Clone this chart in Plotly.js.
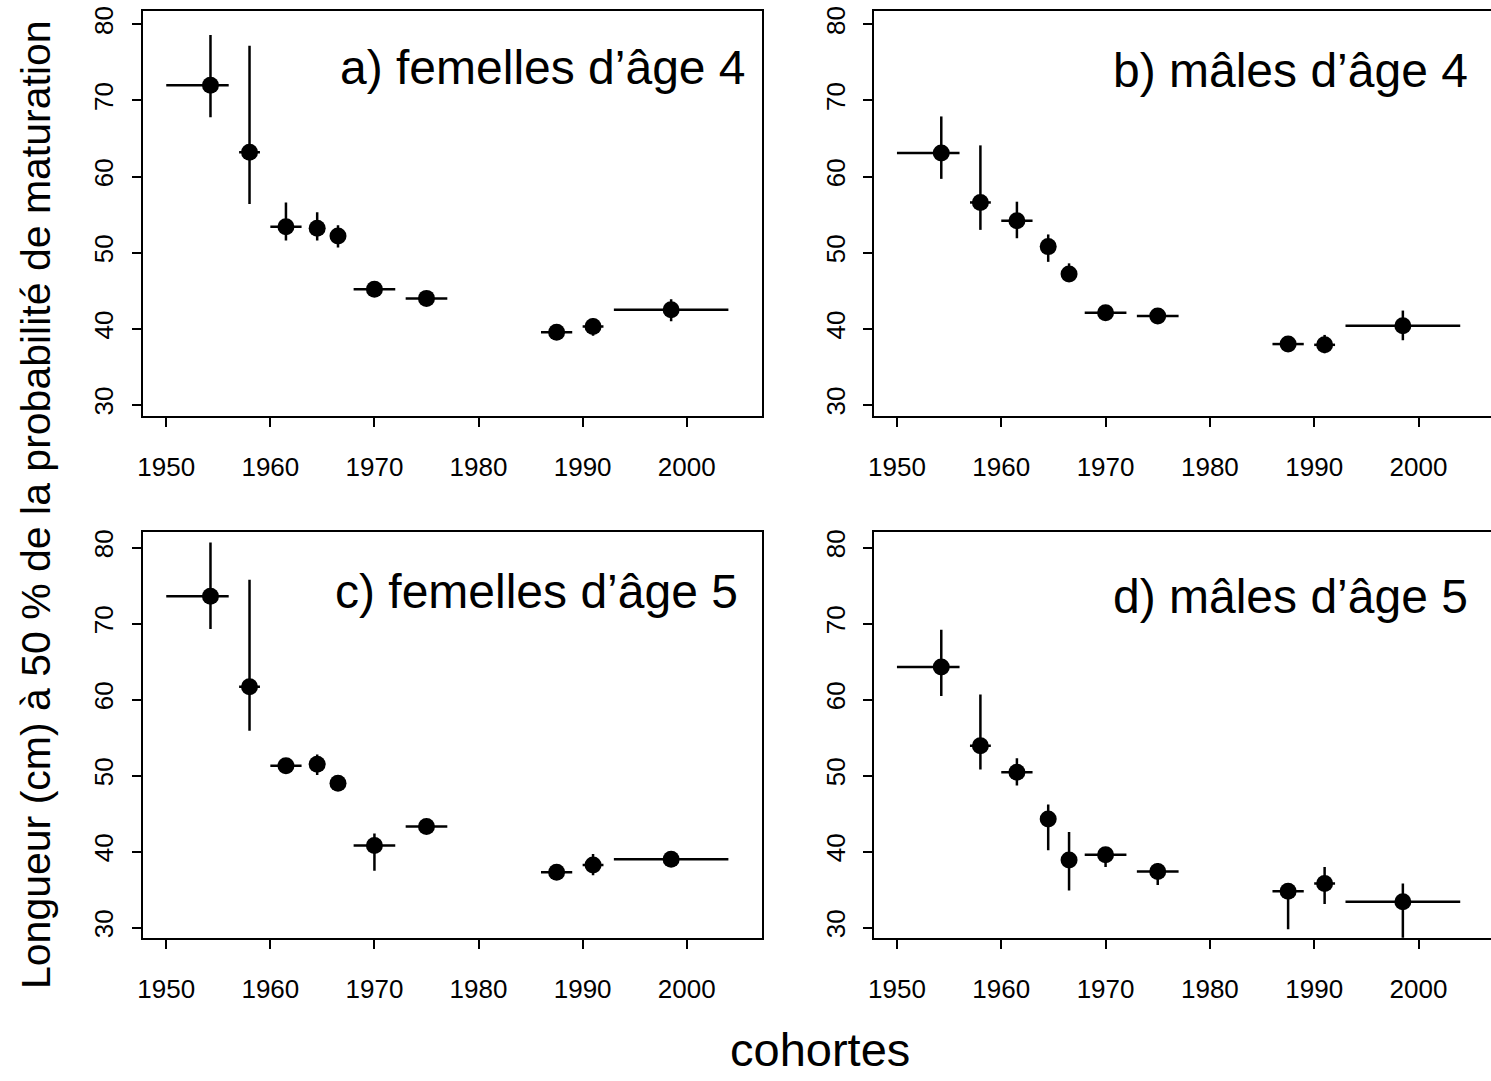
<!DOCTYPE html>
<html>
<head>
<meta charset="utf-8">
<script src="https://cdn.plot.ly/plotly-3.0.1.min.js"></script>
<style>
  html, body { margin: 0; padding: 0; background: #ffffff; overflow: hidden; }
  #chart { width: 1491px; height: 1081px; }
</style>
</head>
<body>
<div id="chart"></div>
<script>
// ---- Data ----
const cohortes      = [1954.25, 1958.0, 1961.5, 1964.5, 1966.5, 1970.0, 1975.0, 1987.5, 1991.0, 1998.5];
const cohorteDebut  = [1950, 1957, 1960, 1964, 1966, 1968, 1973, 1986, 1990, 1993];
const cohorteFin    = [1956, 1959, 1963, 1965, 1967, 1972, 1977, 1989, 1992, 2004];

const femelles4     = [72.0, 63.2, 53.4, 53.2, 52.2, 45.2, 44.0, 39.55, 40.3, 42.5];
const femelles4Bas  = [67.8, 56.4, 51.6, 51.6, 50.7, 44.7, 43.5, 39.0, 39.1, 41.0];
const femelles4Haut = [78.6, 77.2, 56.6, 55.3, 53.6, 45.7, 44.5, 40.1, 41.4, 43.9];

const males4        = [63.1, 56.6, 54.2, 50.8, 47.2, 42.1, 41.7, 38.0, 37.9, 40.4];
const males4Bas     = [59.7, 53.0, 51.9, 48.8, 46.2, 41.6, 41.2, 37.5, 36.8, 38.5];
const males4Haut    = [67.9, 64.1, 56.7, 52.4, 48.6, 42.6, 42.2, 38.5, 39.2, 42.4];

const femelles5     = [73.6, 61.7, 51.3, 51.5, 49.0, 40.8, 43.3, 37.3, 38.25, 39.0];
const femelles5Bas  = [69.3, 55.9, 50.3, 50.1, 48.2, 37.5, 42.8, 36.7, 36.9, 38.2];
const femelles5Haut = [80.7, 75.8, 52.3, 52.8, 49.8, 42.4, 43.8, 37.9, 39.7, 39.8];

const males5        = [64.3, 53.95, 50.45, 44.3, 38.9, 39.6, 37.4, 34.8, 35.8, 33.4];
const males5Bas     = [60.5, 50.8, 48.7, 40.2, 34.9, 38.0, 35.6, 29.8, 33.1, 27.0];
const males5Haut    = [69.2, 60.7, 52.3, 46.2, 42.6, 40.5, 38.5, 35.6, 38.0, 35.8];

const titresPanneaux = ["a) femelles d’âge 4", "b) mâles d’âge 4", "c) femelles d’âge 5", "d) mâles d’âge 5"];
const xTicks = [1950, 1960, 1970, 1980, 1990, 2000];
const yTicks = [30, 40, 50, 60, 70, 80];
const titreX = "cohortes";
const titreY = "Longueur (cm) à 50 % de la probabilité de maturation";

// ---- Build traces ----
const FONT = "Liberation Sans, Arial, Helvetica, sans-serif";
const W = 1491, H = 1081;

function makeTrace(y, lo, hi, xa, ya) {
  return {
    type: "scatter", mode: "markers",
    x: cohortes, y: y, xaxis: xa, yaxis: ya,
    marker: { color: "black", size: 17, symbol: "circle" },
    error_y: {
      type: "data", symmetric: false,
      array: hi.map((v, i) => v - y[i]),
      arrayminus: lo.map((v, i) => y[i] - v),
      width: 0, thickness: 2.5, color: "black"
    },
    error_x: {
      type: "data", symmetric: false,
      array: cohorteFin.map((v, i) => v - cohortes[i]),
      arrayminus: cohorteDebut.map((v, i) => cohortes[i] - v),
      width: 0, thickness: 2.5, color: "black"
    },
    hoverinfo: "x+y", showlegend: false
  };
}

const data = [
  makeTrace(femelles4, femelles4Bas, femelles4Haut, "x", "y"),
  makeTrace(males4, males4Bas, males4Haut, "x2", "y2"),
  makeTrace(femelles5, femelles5Bas, femelles5Haut, "x3", "y3"),
  makeTrace(males5, males5Bas, males5Haut, "x4", "y4")
];

// pixel helpers
const px = v => v / W;
const py = v => 1 - v / H;

function xAxis(domain, range, anchor) {
  return {
    domain: domain, range: range, anchor: anchor,
    tickmode: "array", tickvals: xTicks, ticktext: xTicks.map(String),
    ticks: "outside", ticklen: 9, tickwidth: 2, tickcolor: "black",
    showline: true, mirror: true, linecolor: "black", linewidth: 2,
    showgrid: false, zeroline: false,
    tickfont: { family: FONT, size: 26, color: "black" },
    ticklabelstandoff: 18, fixedrange: true
  };
}
function yAxis(domain, range, anchor) {
  return {
    domain: domain, range: range, anchor: anchor,
    tickmode: "array", tickvals: yTicks, ticktext: yTicks.map(String),
    ticks: "outside", ticklen: 9, tickwidth: 2, tickcolor: "black",
    tickangle: -90,
    showline: true, mirror: true, linecolor: "black", linewidth: 2,
    showgrid: false, zeroline: false,
    tickfont: { family: FONT, size: 26, color: "black" },
    ticklabelstandoff: 8, fixedrange: true
  };
}

const xLeft = [px(142.5), px(761.7)];
const xRight = [px(874), 1.0];
const yTop = [py(416), py(11)];
const yBot = [py(937.7), py(532.3)];

const layout = {
  width: W, height: H,
  margin: { l: 0, r: 0, t: 0, b: 0, pad: 0 },
  paper_bgcolor: "white", plot_bgcolor: "white",
  showlegend: false,
  font: { family: FONT, color: "black" },
  xaxis:  xAxis(xLeft,  [1947.72, 2007.2], "y"),
  yaxis:  yAxis(yTop,   [28.55, 81.75], "x"),
  xaxis2: xAxis(xRight, [1947.8, 2006.95], "y2"),
  yaxis2: yAxis(yTop,   [28.55, 81.75], "x2"),
  xaxis3: xAxis(xLeft,  [1947.72, 2007.2], "y3"),
  yaxis3: yAxis(yBot,   [28.68, 82.03], "x3"),
  xaxis4: xAxis(xRight, [1947.8, 2006.95], "y4"),
  yaxis4: yAxis(yBot,   [28.68, 82.03], "x4"),
  annotations: [
    { text: titresPanneaux[0], xref: "paper", yref: "paper", x: px(748), y: py(68), xanchor: "right", yanchor: "middle", showarrow: false, font: { family: FONT, size: 48, color: "black" } },
    { text: titresPanneaux[1], xref: "paper", yref: "paper", x: px(1470), y: py(70), xanchor: "right", yanchor: "middle", showarrow: false, font: { family: FONT, size: 48, color: "black" } },
    { text: titresPanneaux[2], xref: "paper", yref: "paper", x: px(740), y: py(591), xanchor: "right", yanchor: "middle", showarrow: false, font: { family: FONT, size: 48, color: "black" } },
    { text: titresPanneaux[3], xref: "paper", yref: "paper", x: px(1470), y: py(596), xanchor: "right", yanchor: "middle", showarrow: false, font: { family: FONT, size: 48, color: "black" } },
    { text: titreX, xref: "paper", yref: "paper", x: px(820), y: py(1049), xanchor: "center", yanchor: "middle", showarrow: false, font: { family: FONT, size: 47, color: "black" } },
    { text: titreY, xref: "paper", yref: "paper", x: px(36), y: py(505), xanchor: "center", yanchor: "middle", textangle: -90, showarrow: false, font: { family: FONT, size: 41, color: "black" } }
  ]
};

Plotly.newPlot("chart", data, layout, { staticPlot: true, displayModeBar: false });
</script>
</body>
</html>
